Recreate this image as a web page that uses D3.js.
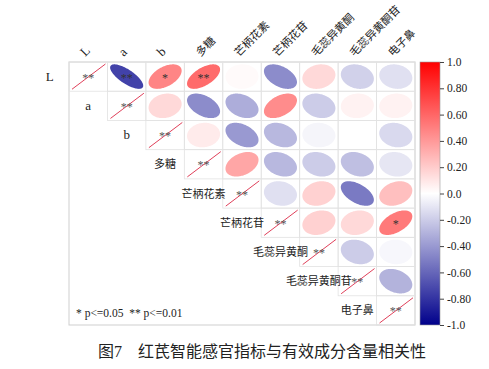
<!DOCTYPE html>
<html><head><meta charset="utf-8">
<script src="https://cdn.jsdelivr.net/npm/d3@7"></script>
<style>
body{margin:0;background:#fff;}
svg{display:block;}
text{font-family:"Liberation Serif","Times New Roman","Noto Sans CJK SC",serif;}
</style></head>
<body><svg id="c" width="489" height="369"></svg>
<script>
const variables = ["L","a","b","多糖","芒柄花素","芒柄花苷","毛蕊异黄酮","毛蕊异黄酮苷","电子鼻"];
// upper-triangle correlations, row i -> columns i+1..8
const rowL   = [-0.74, 0.48, 0.58, 0.02, -0.45, 0.15, -0.18, -0.12];
const rowA   = [0.15, -0.45, -0.32, 0.45, -0.20, 0.05, 0.05];
const rowB   = [0.08, -0.40, -0.28, -0.04, 0.00, -0.15];
const rowDT  = [0.35, -0.28, -0.20, -0.25, -0.10];
const rowMBS = [-0.12, 0.18, -0.52, 0.25];
const rowMBG = [0.18, 0.15, 0.52];
const rowMRT = [-0.20, -0.03];
const rowMRG = [-0.30];
const rows = [rowL,rowA,rowB,rowDT,rowMBS,rowMBG,rowMRT,rowMRG,[]];
// significance marks: [row, col, mark]
const signif = [[0,1,"**"],[0,2,"*"],[0,3,"**"],[5,8,"*"]];
const cbTicks = [1,0.8,0.6,0.4,0.2,0,-0.2,-0.4,-0.6,-0.8,-1];
const cbLabels = ["1.0","0.80","0.60","0.40","0.20","0.0","-0.20","-0.40","-0.60","-0.80","-1.0"];
const caption = "图7　红芪智能感官指标与有效成分含量相关性";

const svg = d3.select("#c");
const x = d3.scaleBand().domain(variables).range([69,415]);
const y = d3.scaleBand().domain(variables).range([62,325]);
const color = d3.scaleLinear().domain([-1,0,1]).range(["#00008B","#ffffff","#ff0000"]);
const bw = x.bandwidth(), bh = y.bandwidth();

// panel box
svg.append("rect").attr("x",69).attr("y",62).attr("width",415-69).attr("height",325-62)
  .attr("fill","none").attr("stroke","#cfcfcf").attr("stroke-width",1);

const cells = [];
variables.forEach((rv,i)=>{
  variables.forEach((cv,j)=>{
    if(j>=i) cells.push({i,j,r: j===i?1:rows[i][j-i-1]});
  });
});
const sigMap = {};
signif.forEach(s=>sigMap[s[0]+"-"+s[1]]=s[2]);

// grid
svg.append("g").selectAll("rect").data(cells).join("rect")
  .attr("x",d=>x(variables[d.j])).attr("y",d=>y(variables[d.i]))
  .attr("width",bw).attr("height",bh)
  .attr("fill","none").attr("stroke","#e2e2e2").attr("stroke-width",0.8);

// ellipses
const ts = d3.range(0, 2*Math.PI+0.001, Math.PI/60);
const line = d3.line();
const off = cells.filter(d=>d.i!==d.j);
svg.append("g").selectAll("path").data(off).join("path")
  .attr("d",d=>{
    const cx = x(variables[d.j])+bw/2, cy = y(variables[d.i])+bh/2;
    const dd = Math.acos(Math.max(-1,Math.min(1,d.r)));
    const hw = bw*0.43, hh = bh*0.42;
    return line(ts.map(t=>[cx+hw*Math.cos(t+dd/2), cy-hh*Math.cos(t-dd/2)]))+"Z";
  })
  .attr("fill",d=>color(d.r));

// significance on ellipses
svg.append("g").selectAll("text").data(off.filter(d=>sigMap[d.i+"-"+d.j])).join("text")
  .attr("x",d=>x(variables[d.j])+bw/2).attr("y",d=>y(variables[d.i])+bh/2+5)
  .attr("text-anchor","middle").attr("font-size",12).attr("fill","#333")
  .text(d=>sigMap[d.i+"-"+d.j]);

// diagonal
const diag = cells.filter(d=>d.i===d.j);
svg.append("g").selectAll("line").data(diag).join("line")
  .attr("x1",d=>x(variables[d.j])+3).attr("y1",d=>y(variables[d.i])+bh-2)
  .attr("x2",d=>x(variables[d.j])+bw-2).attr("y2",d=>y(variables[d.i])+2)
  .attr("stroke","#e0405a").attr("stroke-width",1);
svg.append("g").selectAll("text").data(diag).join("text")
  .attr("x",d=>x(variables[d.j])+bw/2).attr("y",d=>y(variables[d.i])+bh/2+5)
  .attr("text-anchor","middle").attr("font-size",12).attr("fill","#555")
  .text("**");

// row labels (centered in cell left of diagonal)
svg.append("g").selectAll("text").data(variables).join("text")
  .attr("x",(d,i)=>x(d)-bw/2).attr("y",d=>y(d)+bh/2+4)
  .attr("text-anchor","middle").attr("font-size",d=>/[a-zA-Z]/.test(d)?13:11).attr("fill","#222")
  .text(d=>d);

// column labels rotated
svg.append("g").selectAll("text").data(variables).join("text")
  .attr("transform",d=>`translate(${x(d)+bw/2-3},57) rotate(-45)`)
  .attr("font-size",d=>/[a-zA-Z]/.test(d)?13:11).attr("fill","#222")
  .text(d=>d);

// legend text
svg.append("text").attr("x",76).attr("y",317).attr("font-size",11.5).attr("fill","#222")
  .attr("xml:space","preserve").text("* p<=0.05  ** p<=0.01");

// colorbar
const defs = svg.append("defs");
const grad = defs.append("linearGradient").attr("id","cb").attr("x1",0).attr("y1",1).attr("x2",0).attr("y2",0);
d3.range(0,1.0001,0.1).forEach(f=>grad.append("stop").attr("offset",f).attr("stop-color",color(-1+2*f)));
const cy = d3.scaleLinear().domain([-1,1]).range([325,62]);
svg.append("rect").attr("x",420).attr("y",62).attr("width",20).attr("height",325-62)
  .attr("fill","url(#cb)").attr("stroke","#999").attr("stroke-width",0.6);
const ax = svg.append("g").attr("transform","translate(440,0)")
  .call(d3.axisRight(cy).tickValues(cbTicks).tickSize(4).tickPadding(3)
    .tickFormat((d,i)=>cbLabels[i]));
ax.select(".domain").remove();
ax.selectAll("line").attr("stroke","#444");
ax.selectAll("text").attr("font-size",11.5).attr("fill","#222")
  .attr("font-family","Liberation Serif, Times New Roman, serif");

// caption
svg.append("text").attr("x",262).attr("y",357).attr("text-anchor","middle")
  .attr("font-size",16).attr("fill","#222").attr("font-family","Noto Sans CJK SC, sans-serif")
  .text(caption);
</script></body></html>
